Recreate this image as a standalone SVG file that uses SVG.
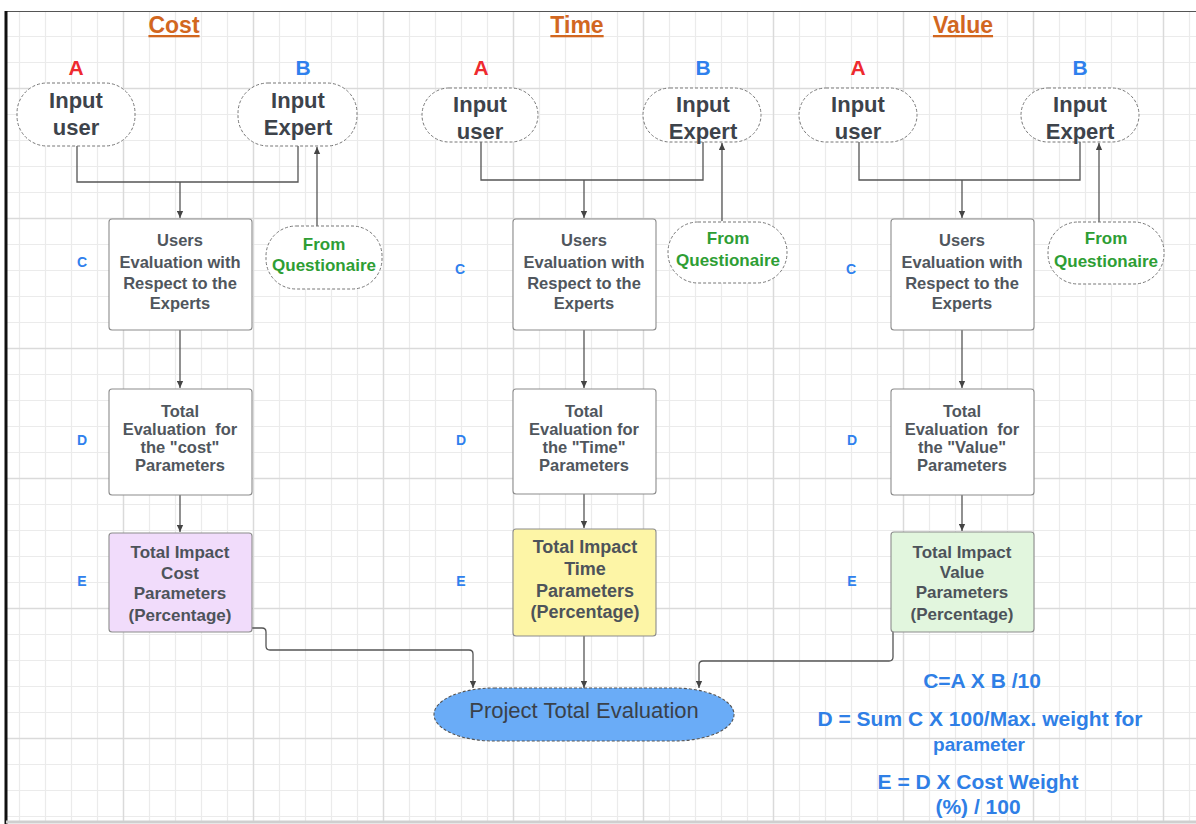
<svg xmlns="http://www.w3.org/2000/svg" width="1196" height="824" viewBox="0 0 1196 824">
<defs>
<pattern id="minor" x="0" y="0" width="26" height="26" patternUnits="userSpaceOnUse">
<path d="M19.5,0 V26 M0,10.5 H26" stroke="#ebebeb" stroke-width="1.2" fill="none"/>
</pattern>
<pattern id="major" x="0" y="0" width="130" height="130" patternUnits="userSpaceOnUse">
<path d="M123.5,0 V130 M0,88.5 H130" stroke="#dadada" stroke-width="1.4" fill="none"/>
</pattern>
<marker id="arr" viewBox="0 0 10 10" refX="10" refY="5" markerWidth="7" markerHeight="7" markerUnits="userSpaceOnUse" orient="auto">
<path d="M0,0.5 L10,5 L0,9.5 Z" fill="#444"/>
</marker>
<style>
.conn{fill:none;stroke:#555;stroke-width:1.3}
.pill{fill:#fff;stroke:#777;stroke-width:1;stroke-dasharray:3 2}
.box{fill:#fff;stroke:#8c8c8c;stroke-width:1.1}
.title{font-family:"Liberation Sans",Arial,sans-serif;font-weight:bold;font-size:23px;fill:#d2671f;text-decoration:underline;text-anchor:middle}
.lA{font-family:"Liberation Sans",Arial,sans-serif;font-weight:bold;font-size:21px;fill:#ee2a2f;text-anchor:middle}
.lB{font-family:"Liberation Sans",Arial,sans-serif;font-weight:bold;font-size:21px;fill:#2f80ed;text-anchor:middle}
.inp{font-family:"Liberation Sans",Arial,sans-serif;font-weight:bold;font-size:22px;fill:#3d434b;text-anchor:middle}
.bt{font-family:"Liberation Sans",Arial,sans-serif;font-weight:bold;font-size:16.5px;fill:#50565d;text-anchor:middle}
.et{font-family:"Liberation Sans",Arial,sans-serif;font-weight:bold;font-size:17px;fill:#4d535a;text-anchor:middle}
.q{font-family:"Liberation Sans",Arial,sans-serif;font-weight:bold;font-size:17px;fill:#2e9e34;text-anchor:middle}
.lbl{font-family:"Liberation Sans",Arial,sans-serif;font-weight:bold;font-size:14px;fill:#2f80ed;text-anchor:middle}
.f{font-family:"Liberation Sans",Arial,sans-serif;font-weight:bold;font-size:21px;fill:#2f7fe6;text-anchor:middle}
</style>
</defs>
<rect x="0" y="0" width="1196" height="824" fill="#fff"/>
<rect x="6" y="11" width="1190" height="810" fill="url(#minor)"/>
<rect x="6" y="11" width="1190" height="810" fill="url(#major)"/>
<line x1="5" y1="11.5" x2="1196" y2="11.5" stroke="#555" stroke-width="1.2"/>
<line x1="6" y1="11" x2="6" y2="824" stroke="#111" stroke-width="3"/>
<line x1="6" y1="822" x2="1196" y2="822" stroke="#cfcfcf" stroke-width="3"/>

<g id="labels">
<text class="title" x="174" y="33">Cost</text>
<text class="title" x="577" y="33">Time</text>
<text class="title" x="963" y="33">Value</text>
<text class="lA" x="76" y="75">A</text>
<text class="lB" x="303" y="75">B</text>
<text class="lA" x="481" y="75">A</text>
<text class="lB" x="703" y="75">B</text>
<text class="lA" x="858" y="75">A</text>
<text class="lB" x="1080" y="75">B</text>
<text class="lbl" x="82" y="267">C</text>
<text class="lbl" x="82" y="445">D</text>
<text class="lbl" x="82" y="586">E</text>
<text class="lbl" x="460" y="274">C</text>
<text class="lbl" x="461" y="445">D</text>
<text class="lbl" x="461" y="586">E</text>
<text class="lbl" x="851" y="274">C</text>
<text class="lbl" x="852" y="445">D</text>
<text class="lbl" x="852" y="586">E</text>
</g>

<g id="connectors">
<path class="conn" d="M77,146 V182 H298 V146"/>
<path class="conn" d="M180,182 V218" marker-end="url(#arr)"/>
<path class="conn" d="M317,227 V147" marker-end="url(#arr)"/>
<path class="conn" d="M180,330 V388" marker-end="url(#arr)"/>
<path class="conn" d="M180,495 V532" marker-end="url(#arr)"/>
<path class="conn" d="M252,628 H262 Q266,628 266,632 V646 Q266,650 270,650 H469 Q473,650 473,654 V688" marker-end="url(#arr)"/>
<path class="conn" d="M481,142 V180 H703 V142"/>
<path class="conn" d="M584,180 V218" marker-end="url(#arr)"/>
<path class="conn" d="M722,221 V143" marker-end="url(#arr)"/>
<path class="conn" d="M584,330 V388" marker-end="url(#arr)"/>
<path class="conn" d="M584,494 V528" marker-end="url(#arr)"/>
<path class="conn" d="M584,636 V688" marker-end="url(#arr)"/>
<path class="conn" d="M859,142 V180 H1080 V142"/>
<path class="conn" d="M962,180 V218" marker-end="url(#arr)"/>
<path class="conn" d="M1099,222 V143" marker-end="url(#arr)"/>
<path class="conn" d="M962,330 V388" marker-end="url(#arr)"/>
<path class="conn" d="M962,495 V531" marker-end="url(#arr)"/>
<path class="conn" d="M893,632 V657 Q893,661 889,661 H703 Q699,661 699,665 V688" marker-end="url(#arr)"/>
</g>

<g id="cost-input-user"><rect class="pill" x="17" y="83" width="118" height="63" rx="30"/><text class="inp" x="76" y="108">Input</text><text class="inp" x="76" y="135">user</text></g>
<g id="cost-input-expert"><rect class="pill" x="238" y="83" width="119" height="63" rx="30"/><text class="inp" x="298" y="108">Input</text><text class="inp" x="298" y="135">Expert</text></g>
<g id="cost-questionaire"><rect class="pill" x="266" y="226" width="116" height="63" rx="30"/><text class="q" x="324" y="250">From</text><text class="q" x="324" y="271">Questionaire</text></g>
<g id="cost-c"><rect class="box" x="109" y="219" width="143" height="111" rx="3"/><text class="bt" x="180" y="246">Users</text><text class="bt" x="180" y="268">Evaluation with</text><text class="bt" x="180" y="289">Respect to the</text><text class="bt" x="180" y="309">Experts</text></g>
<g id="cost-d"><rect class="box" x="109" y="389" width="143" height="106" rx="3"/><text class="bt" x="180" y="417">Total</text><text class="bt" x="180" y="435" xml:space="preserve">Evaluation  for</text><text class="bt" x="180" y="453">the "cost"</text><text class="bt" x="180" y="471">Parameters</text></g>
<g id="cost-e"><rect class="box" x="109" y="533" width="143" height="99" rx="3" style="fill:#f1dcfb"/><text class="et" x="180" y="558">Total Impact</text><text class="et" x="180" y="579">Cost</text><text class="et" x="180" y="599">Parameters</text><text class="et" x="180" y="621">(Percentage)</text></g>

<g id="time-input-user"><rect class="pill" x="422" y="88" width="116" height="54" rx="27"/><text class="inp" x="480" y="112">Input</text><text class="inp" x="480" y="139">user</text></g>
<g id="time-input-expert"><rect class="pill" x="643" y="88" width="118" height="54" rx="27"/><text class="inp" x="703" y="112">Input</text><text class="inp" x="703" y="139">Expert</text></g>
<g id="time-questionaire"><rect class="pill" x="668" y="222" width="119" height="61" rx="30"/><text class="q" x="728" y="244">From</text><text class="q" x="728" y="266">Questionaire</text></g>
<g id="time-c"><rect class="box" x="513" y="219" width="143" height="111" rx="3"/><text class="bt" x="584" y="246">Users</text><text class="bt" x="584" y="268">Evaluation with</text><text class="bt" x="584" y="289">Respect to the</text><text class="bt" x="584" y="309">Experts</text></g>
<g id="time-d"><rect class="box" x="513" y="389" width="143" height="105" rx="3"/><text class="bt" x="584" y="417">Total</text><text class="bt" x="584" y="435">Evaluation for</text><text class="bt" x="584" y="453">the "Time"</text><text class="bt" x="584" y="471">Parameters</text></g>
<g id="time-e"><rect class="box" x="513" y="529" width="143" height="107" rx="3" style="fill:#fdf5a6"/><text class="et" x="585" y="553" style="font-size:18px">Total Impact</text><text class="et" x="585" y="575" style="font-size:18px">Time</text><text class="et" x="585" y="597" style="font-size:18px">Parameters</text><text class="et" x="585" y="618" style="font-size:18px">(Percentage)</text></g>

<g id="value-input-user"><rect class="pill" x="799" y="88" width="118" height="54" rx="27"/><text class="inp" x="858" y="112">Input</text><text class="inp" x="858" y="139">user</text></g>
<g id="value-input-expert"><rect class="pill" x="1021" y="88" width="118" height="54" rx="27"/><text class="inp" x="1080" y="112">Input</text><text class="inp" x="1080" y="139">Expert</text></g>
<g id="value-questionaire"><rect class="pill" x="1048" y="222" width="116" height="62" rx="30"/><text class="q" x="1106" y="244">From</text><text class="q" x="1106" y="267">Questionaire</text></g>
<g id="value-c"><rect class="box" x="891" y="219" width="143" height="111" rx="3"/><text class="bt" x="962" y="246">Users</text><text class="bt" x="962" y="268">Evaluation with</text><text class="bt" x="962" y="289">Respect to the</text><text class="bt" x="962" y="309">Experts</text></g>
<g id="value-d"><rect class="box" x="891" y="389" width="143" height="106" rx="3"/><text class="bt" x="962" y="417">Total</text><text class="bt" x="962" y="435" xml:space="preserve">Evaluation  for</text><text class="bt" x="962" y="453">the "Value"</text><text class="bt" x="962" y="471">Parameters</text></g>
<g id="value-e"><rect class="box" x="891" y="532" width="143" height="100" rx="3" style="fill:#e2f6de"/><text class="et" x="962" y="558">Total Impact</text><text class="et" x="962" y="578">Value</text><text class="et" x="962" y="598">Parameters</text><text class="et" x="962" y="620">(Percentage)</text></g>

<g id="project-total"><rect x="434" y="688" width="300" height="53" rx="60" ry="26.5" fill="#6aacf7" stroke="#555" stroke-width="1.1" stroke-dasharray="3 2"/><text x="584" y="718" style="font-family:'Liberation Sans',Arial,sans-serif;font-size:22px;fill:#3a414a;text-anchor:middle">Project Total Evaluation</text></g>

<g id="formulas">
<text class="f" x="982" y="688">C=A X B /10</text>
<text class="f" x="980" y="726">D = Sum C X 100/Max. weight for</text>
<text class="f" x="979" y="751" style="font-size:19px">parameter</text>
<text class="f" x="978" y="789">E = D X Cost Weight</text>
<text class="f" x="978" y="814">(%) / 100</text>
</g>
</svg>
